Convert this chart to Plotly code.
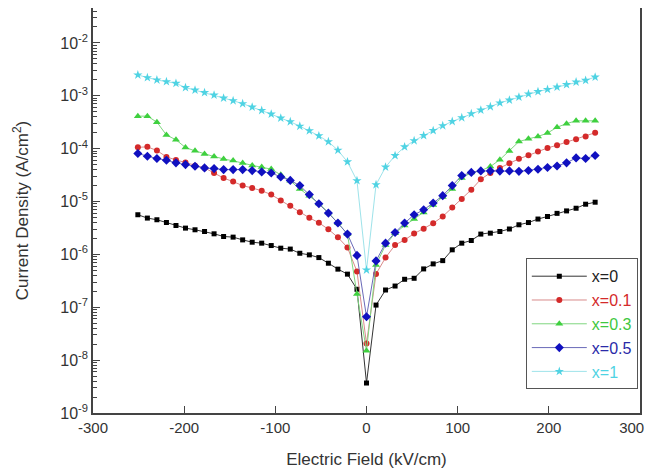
import plotly.graph_objects as go

# Electric field (kV/cm)
field = [-250.8, -240.35, -229.9, -219.45, -209.0, -198.55, -188.1, -177.65, -167.2, -156.75,
         -146.3, -135.85, -125.4, -114.95, -104.5, -94.05, -83.6, -73.15, -62.7, -52.25,
         -41.8, -31.35, -20.9, -10.45, 0.0, 10.45, 20.9, 31.35, 41.8, 52.25,
         62.7, 73.15, 83.6, 94.05, 104.5, 114.95, 125.4, 135.85, 146.3, 156.75,
         167.2, 177.65, 188.1, 198.55, 209.0, 219.45, 229.9, 240.35, 250.8]

# Current density (A/cm^2)
j_x0 = [5.62e-6, 4.86e-6, 4.52e-6, 4.01e-6, 3.52e-6, 3.14e-6, 2.92e-6, 2.71e-6, 2.45e-6, 2.18e-6,
        2.12e-6, 1.88e-6, 1.70e-6, 1.63e-6, 1.47e-6, 1.31e-6, 1.26e-6, 1.05e-6, 9.79e-7, 8.70e-7,
        6.81e-7, 5.26e-7, 4.23e-7, 2.19e-7, 3.69e-9, 1.10e-7, 2.12e-7, 2.52e-7, 3.38e-7, 3.53e-7,
        5.31e-7, 6.61e-7, 7.62e-7, 1.22e-6, 1.63e-6, 1.83e-6, 2.42e-6, 2.52e-6, 2.71e-6, 3.02e-6,
        3.63e-6, 4.00e-6, 4.66e-6, 5.21e-6, 5.97e-6, 6.64e-6, 7.46e-6, 8.89e-6, 9.70e-6]

j_x01 = [1.06e-4, 1.08e-4, 9.21e-5, 6.98e-5, 6.12e-5, 5.45e-5, 4.74e-5, 4.32e-5, 3.47e-5, 2.77e-5,
         2.38e-5, 2.00e-5, 1.80e-5, 1.60e-5, 1.35e-5, 1.05e-5, 8.32e-6, 6.25e-6, 4.93e-6, 3.96e-6,
         2.98e-6, 2.10e-6, 1.35e-6, 4.75e-7, 2.06e-8, 4.26e-7, 8.69e-7, 1.50e-6, 1.88e-6, 2.47e-6,
         3.05e-6, 3.87e-6, 5.21e-6, 7.67e-6, 1.11e-5, 1.67e-5, 2.64e-5, 3.47e-5, 4.32e-5, 5.31e-5,
         6.43e-5, 7.46e-5, 8.81e-5, 1.03e-4, 1.16e-4, 1.33e-4, 1.51e-4, 1.70e-4, 2.00e-4]

j_x03 = [4.12e-4, 4.12e-4, 3.17e-4, 1.81e-4, 1.47e-4, 1.05e-4, 9.08e-5, 7.96e-5, 7.08e-5, 6.40e-5,
         5.94e-5, 5.36e-5, 4.82e-5, 4.48e-5, 4.10e-5, 3.20e-5, 2.46e-5, 1.73e-5, 1.28e-5, 9.21e-6,
         6.18e-6, 3.91e-6, 2.43e-6, 1.78e-7, 1.50e-8, 6.31e-7, 1.51e-6, 2.52e-6, 3.52e-6, 4.65e-6,
         6.21e-6, 8.59e-6, 1.22e-5, 1.73e-5, 2.79e-5, 3.52e-5, 3.84e-5, 4.57e-5, 6.19e-5, 9.00e-5,
         1.36e-4, 1.53e-4, 1.70e-4, 1.97e-4, 2.54e-4, 2.97e-4, 3.36e-4, 3.36e-4, 3.36e-4]

j_x05 = [8.07e-5, 7.18e-5, 6.49e-5, 6.03e-5, 5.38e-5, 4.99e-5, 4.63e-5, 4.32e-5, 4.19e-5, 4.01e-5,
         4.01e-5, 4.01e-5, 3.84e-5, 3.63e-5, 3.47e-5, 2.92e-5, 2.51e-5, 2.00e-5, 1.35e-5, 9.08e-6,
         6.04e-6, 3.91e-6, 2.42e-6, 9.57e-7, 6.61e-8, 7.53e-7, 1.63e-6, 2.59e-6, 3.91e-6, 5.62e-6,
         6.98e-6, 9.37e-6, 1.29e-5, 2.00e-5, 3.09e-5, 3.55e-5, 3.79e-5, 3.79e-5, 3.76e-5, 3.79e-5,
         3.72e-5, 3.87e-5, 4.07e-5, 4.41e-5, 4.71e-5, 5.38e-5, 6.68e-5, 6.49e-5, 7.40e-5]

j_x1 = [2.47e-3, 2.20e-3, 1.99e-3, 1.85e-3, 1.72e-3, 1.43e-3, 1.28e-3, 1.15e-3, 1.03e-3, 9.04e-4,
        8.07e-4, 7.08e-4, 6.10e-4, 5.28e-4, 4.50e-4, 3.78e-4, 3.23e-4, 2.66e-4, 2.18e-4, 1.75e-4,
        1.35e-4, 9.33e-5, 5.62e-5, 2.48e-5, 5.08e-7, 2.08e-5, 4.48e-5, 7.40e-5, 1.08e-4, 1.41e-4,
        1.77e-4, 2.20e-4, 2.71e-4, 3.27e-4, 3.84e-4, 4.57e-4, 5.36e-4, 6.21e-4, 7.33e-4, 8.28e-4,
        9.44e-4, 1.08e-3, 1.20e-3, 1.32e-3, 1.46e-3, 1.63e-3, 1.82e-3, 1.96e-3, 2.26e-3]

labels = ["x=0", "x=0.1", "x=0.3", "x=0.5", "x=1"]
x_tickvals = [-300, -200, -100, 0, 100, 200, 300]
x_ticktext = ["-300", "-200", "-100", "0", "100", "200", "300\u00a0\u00a0\u00a0\u00a0"]
y_tickvals = [1e-9, 1e-8, 1e-7, 1e-6, 1e-5, 1e-4, 1e-3, 1e-2]
y_ticktext = ["10<sup>-9</sup>", "10<sup>-8</sup>", "10<sup>-7</sup>", "10<sup>-6</sup>",
              "10<sup>-5</sup>", "10<sup>-4</sup>", "10<sup>-3</sup>", "10<sup>-2</sup>"]

series = [j_x0, j_x01, j_x03, j_x05, j_x1]
line_colors = ["#333333", "#d98a8a", "#7fd67f", "#6a6ab8", "#9ee3ea"]
marker_colors = ["#000000", "#d42a2a", "#3fd03f", "#1010c0", "#4fd3e3"]
text_colors = ["#222222", "#d42a2a", "#3fc83f", "#2a2aa8", "#4fd3e3"]
symbols = ["square", "circle", "triangle-up", "diamond", "star"]
sizes = [5, 6, 7, 7, 7]

fig = go.Figure()
for ys, lab, lc, mc, tc, sym, sz in zip(series, labels, line_colors, marker_colors,
                                         text_colors, symbols, sizes):
    fig.add_trace(go.Scatter(
        x=field, y=ys, mode="lines+markers",
        name=f"<span style='color:{tc}'>{lab}</span>",
        line=dict(color=lc, width=1),
        marker=dict(symbol=sym, size=sz, color=mc, line=dict(width=0)),
    ))

font_family = "Arial, Liberation Sans, sans-serif"
fig.update_layout(
    width=653, height=472,
    margin=dict(l=85, r=21, t=0, b=67, autoexpand=False),
    paper_bgcolor="white", plot_bgcolor="white",
    font=dict(family=font_family, size=15, color="#333333"),
    showlegend=True,
    legend=dict(
        x=0.996, y=0.382, xanchor="right", yanchor="top",
        bgcolor="white", bordercolor="#555555", borderwidth=1,
        font=dict(size=16, family=font_family),
        itemwidth=55, tracegroupgap=0,
    ),
)
fig.update_xaxes(
    range=[-300, 300], tickvals=x_tickvals, ticktext=x_ticktext, automargin=False,
    ticklabeloverflow="allow",
    ticks="inside", ticklen=7, tickwidth=1.3, tickcolor="#444444",
    showline=True, linecolor="#444444", linewidth=1.5, mirror=True,
    showgrid=False, zeroline=False,
    tickfont=dict(size=15, color="#333333"),
    title=dict(text="Electric Field (kV/cm)", font=dict(size=17, color="#333333"), standoff=18),
)
fig.update_yaxes(
    type="log", range=[-9, -1.34], automargin=False,
    tickvals=y_tickvals, ticktext=y_ticktext,
    ticks="inside", ticklen=7, tickwidth=1.3, tickcolor="#444444",
    minor=dict(ticks="inside", ticklen=4, tickcolor="#444444", dtick="D1", showgrid=False),
    showline=True, linecolor="#444444", linewidth=1.5, mirror=True,
    showgrid=False, zeroline=False,
    tickfont=dict(size=16, color="#333333"),
    title=dict(text="Current Density (A/cm<sup>2</sup>)", font=dict(size=17, color="#333333"), standoff=27),
)

fig.write_html("out.html")
